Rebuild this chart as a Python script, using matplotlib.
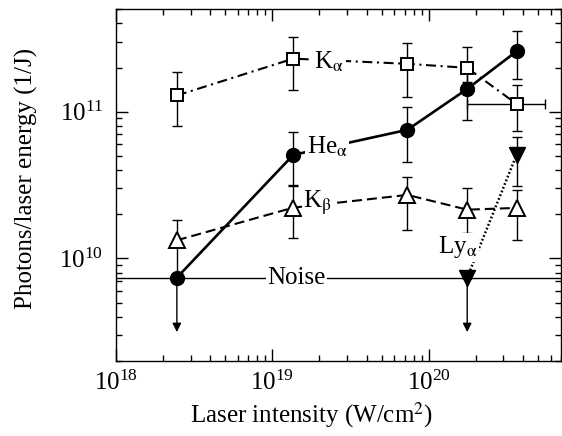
import numpy as np
import matplotlib.pyplot as plt

plt.rcParams['font.family'] = ['Liberation Serif', 'DejaVu Serif']
plt.rcParams['mathtext.fontset'] = 'stix'

# laser intensity (W/cm^2) of the five shot groups
x = np.array([2.45e18, 1.36e19, 7.3e19, 1.76e20, 3.64e20])

# He-alpha
he_y = np.array([7.4e9, 5.08e10, 7.53e10, 1.43e11, 2.58e11])
he_lo = np.array([7.4e9, 3.18e10, 4.57e10, 8.8e10, 1.66e11])
he_hi = np.array([7.4e9, 7.26e10, 1.07e11, 1.95e11, 3.54e11])

# K-alpha
ka_y = np.array([1.29e11, 2.30e11, 2.12e11, 1.99e11, 1.13e11])
ka_lo = np.array([7.98e10, 1.40e11, 1.25e11, 1.6e11, 7.42e10])
ka_hi = np.array([1.86e11, 3.24e11, 2.96e11, 2.77e11, 1.53e11])
ka_xerr_last = 1.88e20

# K-beta
kb_y = np.array([1.33e10, 2.22e10, 2.71e10, 2.15e10, 2.21e10])
kb_lo = np.array([8.0e9, 1.37e10, 1.56e10, 1.48e10, 1.33e10])
kb_hi = np.array([1.83e10, 3.1e10, 3.58e10, 3.04e10, 2.93e10])

# Ly-alpha (last two groups only)
ly_x = x[3:]
ly_y = np.array([7.4e9, 5.08e10])
ly_lo = np.array([7.4e9, 3.12e10])
ly_hi = np.array([7.4e9, 6.75e10])

# upper limits (points at noise level)
lim_x = [x[0], x[3]]
lim_top = 7.4e9
lim_bottom = 3.15e9

noise = 7.4e9

fig = plt.figure(figsize=(5.62, 4.36), dpi=100)
ax = fig.add_axes([0.2064, 0.172, 0.7918, 0.807])
ax.set_xscale('log')
ax.set_yscale('log')

eb = dict(ecolor='black', elinewidth=1.0, capsize=3.5, capthick=1.0)

ax.axhline(noise, color='black', lw=1.0, zorder=1)

ax.errorbar(x, ka_y, yerr=[ka_y - ka_lo, ka_hi - ka_y], fmt='none', zorder=2, **eb)
ax.errorbar(x[4:], ka_y[4:], xerr=[[ka_xerr_last], [ka_xerr_last]], fmt='none', zorder=2, **eb)
ax.errorbar(x, he_y, yerr=[he_y - he_lo, he_hi - he_y], fmt='none', zorder=2, **eb)
ax.errorbar(x, kb_y, yerr=[kb_y - kb_lo, kb_hi - kb_y], fmt='none', zorder=2, **eb)
ax.errorbar(ly_x, ly_y, yerr=[ly_y - ly_lo, ly_hi - ly_y], fmt='none', zorder=2, **eb)

for lx in lim_x:
    ax.annotate('', xy=(lx, lim_bottom), xytext=(lx, lim_top),
                arrowprops=dict(arrowstyle='-|>', lw=1.0, color='black',
                                mutation_scale=13, shrinkA=0, shrinkB=0),
                zorder=2)

ax.plot(x, ka_y, color='black', lw=1.5, dashes=(4.8, 2.2, 1.0, 2.2),
        marker='s', ms=8.5, mfc='white', mec='black', mew=1.4, zorder=3)
ax.plot(x, kb_y, color='black', lw=1.5, dashes=(4.8, 2.4),
        marker='^', ms=11, mfc='white', mec='black', mew=1.4, zorder=3)
ax.plot(ly_x, ly_y, color='black', lw=1.8, dashes=(0.7, 0.9),
        marker='v', ms=11, mfc='black', mec='black', zorder=3)
ax.plot(x, he_y, color='black', lw=1.9, marker='o', ms=10,
        mfc='black', mec='black', zorder=4)

box = dict(facecolor='white', edgecolor='none', pad=1.0)
ax.text(2.31e19, 2.2e11, r'K$_{\mathrm{\alpha}}$', fontsize=18, ha='center', va='center', bbox=box, zorder=5)
ax.text(2.24e19, 5.77e10, r'He$_{\mathrm{\alpha}}$', fontsize=18, ha='center', va='center', bbox=box, zorder=5)
ax.text(1.94e19, 2.39e10, r'K$_{\mathrm{\beta}}$', fontsize=18, ha='center', va='center', bbox=box, zorder=5)
ax.text(1.53e20, 1.19e10, r'Ly$_{\mathrm{\alpha}}$', fontsize=18, ha='center', va='center', bbox=box, zorder=5)
ax.text(1.42e19, noise, 'Noise', fontsize=18, ha='center', va='center', bbox=box, zorder=5)

ax.set_xlim(1e18, 7e20)
ax.set_ylim(2e9, 5e11)

ax.tick_params(which='both', direction='in', top=True, right=True, width=1.0)
ax.tick_params(which='major', length=8.6, labelsize=18)
ax.tick_params(axis='x', which='major', pad=7)
ax.tick_params(axis='y', which='major', pad=9)
ax.tick_params(which='minor', length=4.5)
for s in ax.spines.values():
    s.set_linewidth(1.0)

ax.set_xlabel('Laser intensity (W/cm$^2$)', fontsize=18)
ax.set_ylabel('Photons/laser energy (1/J)', fontsize=18)
ax.xaxis.set_label_coords(0.44, -0.111)
ax.yaxis.set_label_coords(-0.175, 0.52)

fig.savefig('out.png', dpi=100)
